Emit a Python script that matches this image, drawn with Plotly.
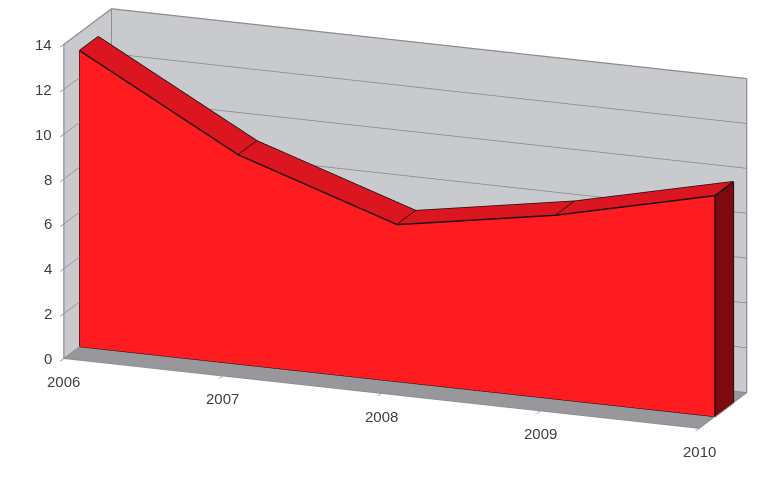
import plotly.graph_objects as go

years = ["2006", "2007", "2008", "2009", "2010"]
values = [13.2, 9.33, 7.0, 8.2, 9.85]
z_ticks = [0, 2, 4, 6, 8, 10, 12, 14]
depth = [0.33, 0.72]

X = list(range(len(years)))
n = len(X)
y0, y1 = depth
x_max = X[-1]
z_max = z_ticks[-1]
FRONT = "#ff1c20"; TOP = "#dc1620"; SIDE = "#7d0a0e"; WALL = "#c9cacd"; FLOOR = "#98989c"; EDGE = "#8e8f92"

def mesh(xs, ys, zs, i, j, k, color):
    return go.Mesh3d(x=xs, y=ys, z=zs, i=i, j=j, k=k, color=color, flatshading=True,
                     lighting=dict(ambient=1, diffuse=0, specular=0, roughness=1, fresnel=0),
                     hoverinfo="skip", showscale=False)

def line(xs, ys, zs, color="#1a1010", width=3):
    return go.Scatter3d(x=xs, y=ys, z=zs, mode="lines", line=dict(color=color, width=width),
                        hoverinfo="skip", showlegend=False)

data = []
fx = X + X
fy = [y0] * (2 * n)
fz = values + [0] * n
i, j, k = [], [], []
for a in range(n - 1):
    i += [a, a + 1]; j += [a + 1, n + a + 1]; k += [n + a, n + a]
data.append(mesh(fx, fy, fz, i, j, k, FRONT))
data.append(mesh(X + X, [y0] * n + [y1] * n, values + values, i, j, k, TOP))
data.append(mesh([x_max] * 4, [y0, y1, y1, y0], [values[-1], values[-1], 0, 0], [0, 0], [1, 2], [2, 3], SIDE))
# wall outlines
data.append(line([0, 0, 0, 0, x_max, x_max], [0, 0, 1, 1, 1, 1], [0, z_max, z_max, 0, 0, z_max], EDGE, 2.5))
data.append(line([0, x_max], [1, 1], [z_max, z_max], EDGE, 2.5))
data.append(line([x_max, x_max, 0, 0], [1, 0, 0, 1], [0, 0, 0, 0], EDGE, 2))
# area edges
data.append(line(X + [x_max, 0, 0], [y0] * (n + 3), values + [0, 0, values[0]]))
data.append(line([x_max, x_max], [y1, y1], [values[-1], 0]))
for a in range(n):
    data.append(line([X[a], X[a]], [y0, y1], [values[a], values[a]]))
data.append(line(X, [y1] * n, values))
data.append(line([x_max, x_max], [y0, y1], [0, 0]))

font = dict(family="Liberation Sans, Arial, sans-serif", size=15, color="#404040")
annotations = [dict(x=X[a], y=0, z=0, text=years[a], showarrow=False, yshift=-23, font=font) for a in range(n)]
annotations += [dict(x=0, y=0, z=v, text=str(v), showarrow=False, xanchor="right", xshift=-10, font=font) for v in z_ticks]

cx, cy, cz = -0.047, -0.017, -0.1525
fig = go.Figure(data)
fig.update_layout(
    width=770, height=493, margin=dict(l=0, r=0, t=0, b=0), paper_bgcolor="white", showlegend=False,
    scene=dict(
        annotations=annotations,
        domain=dict(x=[0, 1], y=[0, 1]),
        aspectmode="manual", aspectratio=dict(x=2.76, y=0.54, z=1.33),
        camera=dict(eye=dict(x=0.857 + cx, y=-2.237 + cy, z=0.718 + cz), center=dict(x=cx, y=cy, z=cz),
                    up=dict(x=0, y=0, z=1), projection=dict(type="orthographic")),
        xaxis=dict(title="", range=[0, x_max], tickvals=X, showticklabels=False, showgrid=False, zeroline=False,
                   showbackground=True, backgroundcolor=WALL, showline=False, ticks="outside", ticklen=10, tickwidth=2, tickcolor=EDGE,
                   showspikes=False),
        yaxis=dict(title="", range=[0, 1], tickvals=[], showgrid=False, zeroline=False, showline=False,
                   showbackground=True, backgroundcolor=WALL, showspikes=False),
        zaxis=dict(title="", range=[0, z_max], tickvals=z_ticks, showticklabels=False, showgrid=True, gridcolor="#85868a", gridwidth=1.5, zeroline=False,
                   showline=False, ticks="outside", ticklen=10, tickwidth=2, tickcolor=EDGE,
                   showbackground=True, backgroundcolor=FLOOR, showspikes=False),
    ),
)
fig.write_html("out.html")
